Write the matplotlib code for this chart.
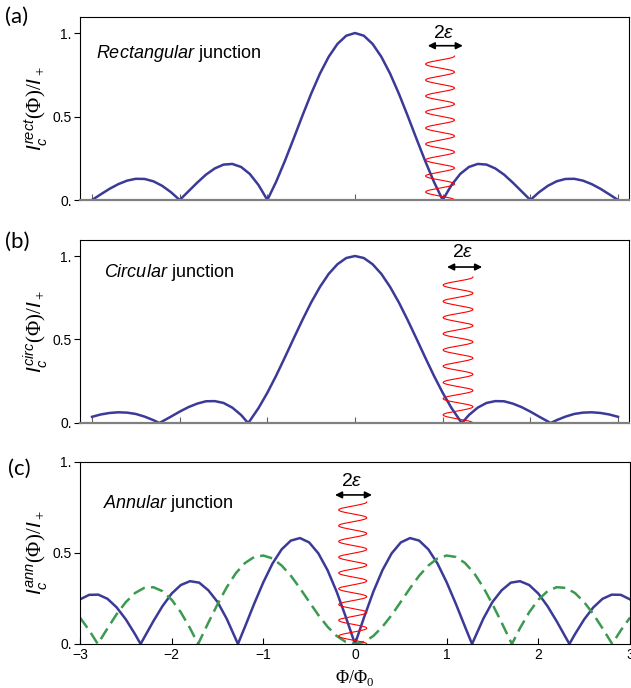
import numpy as np
import matplotlib.pyplot as plt

plt.rcParams['font.family'] = ['Liberation Sans', 'DejaVu Sans']
plt.rcParams['mathtext.fontset'] = 'custom'
plt.rcParams['mathtext.rm'] = 'Liberation Serif'
plt.rcParams['mathtext.it'] = 'Liberation Sans:italic'
plt.rcParams['mathtext.sf'] = 'Liberation Sans'

# ---------------- data ----------------
# flux Phi/Phi0, sampled every 0.1
phi = np.arange(-30, 31) / 10.0

# (a) rectangular junction
rect_ic = [0.0, 0.034, 0.067, 0.095, 0.116, 0.127, 0.126, 0.112, 0.085, 0.047,
           0.0, 0.052, 0.104, 0.152, 0.189, 0.212, 0.216, 0.198, 0.156, 0.089,
           0.0, 0.109, 0.234, 0.368, 0.505, 0.637, 0.757, 0.858, 0.935, 0.984,
           1.0,
           0.984, 0.935, 0.858, 0.757, 0.637, 0.505, 0.368, 0.234, 0.109, 0.0,
           0.089, 0.156, 0.198, 0.216, 0.212, 0.189, 0.152, 0.104, 0.052, 0.0,
           0.047, 0.085, 0.112, 0.126, 0.127, 0.116, 0.095, 0.067, 0.034, 0.0]

# (b) circular junction
circ_ic = [0.037, 0.051, 0.060, 0.064, 0.062, 0.054, 0.038, 0.017, 0.009, 0.038,
           0.068, 0.095, 0.116, 0.130, 0.131, 0.120, 0.092, 0.048, 0.013, 0.090,
           0.181, 0.283, 0.393, 0.506, 0.617, 0.722, 0.815, 0.893, 0.951, 0.988,
           1.0,
           0.988, 0.951, 0.893, 0.815, 0.722, 0.617, 0.506, 0.393, 0.283, 0.181,
           0.090, 0.013, 0.048, 0.092, 0.120, 0.131, 0.130, 0.116, 0.095, 0.068,
           0.038, 0.009, 0.017, 0.038, 0.054, 0.062, 0.064, 0.060, 0.051, 0.037]
circ_zeros = [-2.233, -1.22, 1.22, 2.233]

# (c) annular junction, solid and dashed
ann_ic = [0.245, 0.270, 0.271, 0.248, 0.201, 0.135, 0.054, 0.035, 0.125, 0.208,
          0.277, 0.324, 0.345, 0.337, 0.295, 0.231, 0.139, 0.026, 0.095, 0.221,
          0.339, 0.442, 0.520, 0.568, 0.582, 0.558, 0.498, 0.406, 0.287, 0.148,
          0.0,
          0.148, 0.287, 0.406, 0.498, 0.558, 0.582, 0.568, 0.520, 0.442, 0.339,
          0.221, 0.095, 0.026, 0.139, 0.231, 0.295, 0.337, 0.345, 0.324, 0.277,
          0.208, 0.125, 0.035, 0.054, 0.135, 0.201, 0.248, 0.271, 0.270, 0.245]
ann_zeros = [-2.339, -1.277, 1.277, 2.339]

ann2_ic = [0.145, 0.075, 0.005, 0.086, 0.164, 0.230, 0.280, 0.308, 0.312, 0.290,
           0.243, 0.174, 0.087, 0.012, 0.117, 0.218, 0.311, 0.389, 0.445, 0.478,
           0.486, 0.470, 0.431, 0.375, 0.306, 0.232, 0.159, 0.095, 0.044, 0.011,
           0.0,
           0.011, 0.044, 0.095, 0.159, 0.232, 0.306, 0.375, 0.431, 0.470, 0.486,
           0.478, 0.445, 0.389, 0.311, 0.218, 0.117, 0.012, 0.087, 0.174, 0.243,
           0.290, 0.312, 0.308, 0.280, 0.230, 0.164, 0.086, 0.005, 0.075, 0.145]
ann2_zeros = [-2.806, -1.712, 1.712, 2.806]

# red flux oscillation sketch: centre, half width eps, top, number of turns
wave_a = (0.97, 0.165, 0.862, 9)
wave_b = (1.175, 0.17, 0.874, 9)
wave_c = (-0.025, 0.153, 0.78, 9)

ytick_vals = [0, 0.5, 1]
ytick_txt = ['0.', '0.5', '1.']
xtick_vals = [-3, -2, -1, 0, 1, 2, 3]
xtick_txt = ['\u22123', '\u22122', '\u22121', '0', '1', '2', '3']

blue = '#3b3a98'
green = '#3c9a50'


def add_zeros(x, y, zx):
    xs = np.concatenate([x, zx])
    ys = np.concatenate([y, np.zeros(len(zx))])
    o = np.argsort(xs)
    return xs[o], ys[o]


def draw_wave(ax, w):
    xc, eps, top, n = w
    s = np.linspace(0, 1, 600)
    ax.plot(xc + eps * np.cos(2 * np.pi * n * s), top * (1 - s), color='red', lw=0.8)


def style(ax, gray_bottom):
    ax.set_yticks(ytick_vals)
    ax.set_yticklabels(ytick_txt, fontsize=10)
    ax.set_xticks(xtick_vals)
    ax.tick_params(axis='y', direction='out', length=4, width=0.8, pad=2)
    ax.tick_params(axis='x', direction='in', length=4, width=0.8)
    for sp in ax.spines.values():
        sp.set_linewidth(0.8)
    if gray_bottom:
        ax.spines['bottom'].set_color('#808080')
        ax.spines['bottom'].set_linewidth(1.6)
        ax.tick_params(axis='x', colors='#606060', labelbottom=False)
    ax.yaxis.set_label_coords(-0.055, 0.5)


fig = plt.figure(figsize=(6.31, 6.88), dpi=100)

# (a)
ax_a = fig.add_axes([0.1268, 0.7093, 0.870, 0.266])
ax_a.plot(phi, rect_ic, color=blue, lw=1.8)
draw_wave(ax_a, wave_a)
ax_a.set_xlim(-3.137, 3.125)
ax_a.set_ylim(0, 1.096)
style(ax_a, True)
ax_a.set_ylabel(r'$I_c^{rect}(\Phi)/I_+$', fontsize=15)
ax_a.text(-2.95, 0.88, r'$\mathit{Rectangular}$ junction', fontsize=13, va='center')
ax_a.annotate('', xy=(1.23, 0.924), xytext=(0.83, 0.924),
              arrowprops=dict(arrowstyle='<|-|>', color='k', lw=1.2, mutation_scale=10,
                              shrinkA=0, shrinkB=0))
ax_a.text(1.015, 1.0, r'2$\varepsilon$', fontsize=14, ha='center', va='center')

# (b)
ax_b = fig.add_axes([0.1268, 0.3852, 0.870, 0.266])
ax_b.plot(*add_zeros(phi, circ_ic, circ_zeros), color=blue, lw=1.8)
draw_wave(ax_b, wave_b)
ax_b.set_xlim(-3.137, 3.125)
ax_b.set_ylim(0, 1.096)
style(ax_b, True)
ax_b.set_ylabel(r'$I_c^{circ}(\Phi)/I_+$', fontsize=15)
ax_b.text(-2.86, 0.9, r'$\mathit{Circular}$ junction', fontsize=13, va='center')
ax_b.annotate('', xy=(1.45, 0.934), xytext=(1.05, 0.934),
              arrowprops=dict(arrowstyle='<|-|>', color='k', lw=1.2, mutation_scale=10,
                              shrinkA=0, shrinkB=0))
ax_b.text(1.23, 1.02, r'2$\varepsilon$', fontsize=14, ha='center', va='center')

# (c)
ax_c = fig.add_axes([0.1268, 0.064, 0.8716, 0.2645])
ax_c.plot(*add_zeros(phi, ann_ic, ann_zeros), color=blue, lw=1.8)
ax_c.plot(*add_zeros(phi, ann2_ic, ann2_zeros), color=green, lw=1.8, ls=(0, (5, 2.5)))
draw_wave(ax_c, wave_c)
ax_c.set_xlim(-3, 3)
ax_c.set_ylim(0, 1)
style(ax_c, False)
ax_c.set_xticklabels(xtick_txt, fontsize=10)
ax_c.tick_params(axis='x', pad=3)
ax_c.set_ylabel(r'$I_c^{ann}(\Phi)/I_+$', fontsize=15)
ax_c.set_xlabel(r'$\Phi/\Phi_{\mathit{0}}$', fontsize=13, labelpad=4)
ax_c.text(-2.75, 0.77, r'$\mathit{Annular}$ junction', fontsize=13, va='center')
ax_c.annotate('', xy=(0.185, 0.819), xytext=(-0.218, 0.819),
              arrowprops=dict(arrowstyle='<|-|>', color='k', lw=1.2, mutation_scale=10,
                              shrinkA=0, shrinkB=0))
ax_c.text(-0.03, 0.895, r'2$\varepsilon$', fontsize=14, ha='center', va='center')

fig.text(0.008, 0.975, '(a)', fontsize=16, family='Lato', va='center')
fig.text(0.008, 0.648, '(b)', fontsize=16, family='Lato', va='center')
fig.text(0.012, 0.318, '(c)', fontsize=16, family='Lato', va='center')

fig.savefig('out.png', dpi=100)
